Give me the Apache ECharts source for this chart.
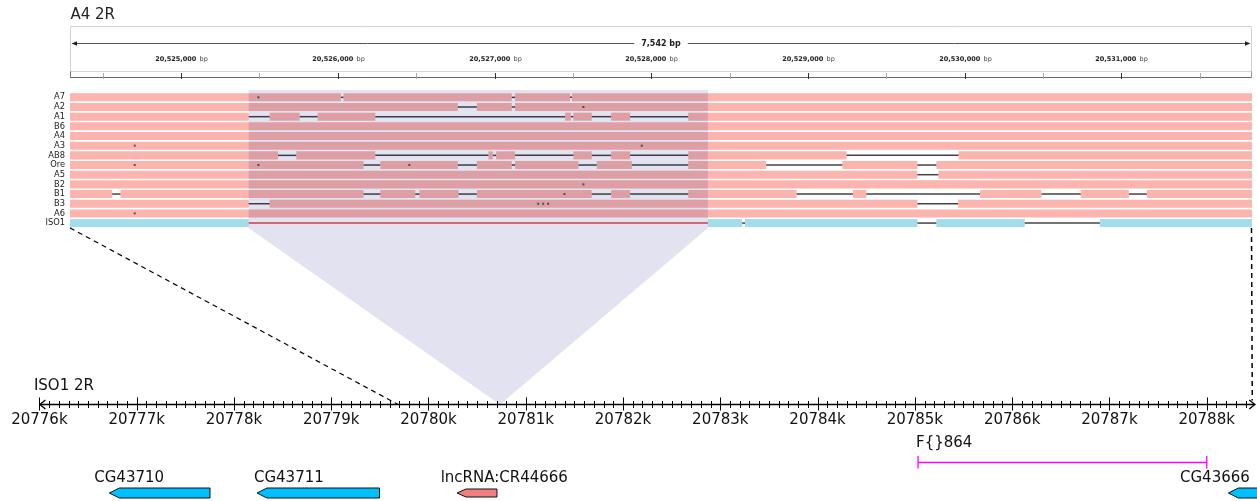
<!DOCTYPE html>
<html>
<head>
<meta charset="utf-8">
<script src="https://cdn.jsdelivr.net/npm/echarts@6/dist/echarts.min.js"></script>
<style>
  html, body { margin: 0; padding: 0; background: #fff; }
  #chart { width: 1257px; height: 501px; }
</style>
</head>
<body>
<div id="chart"></div>
<script>
// ---- A4 2R window: ruler and aligned assemblies ----
const a4Chrom = 'A4 2R';
const a4Start = 20524291;
const a4End = 20531833;
const a4MajorTicks = [20525000, 20526000, 20527000, 20528000, 20529000, 20530000, 20531000];
const a4MinorTicks = [20524500, 20525500, 20526500, 20527500, 20528500, 20529500, 20530500, 20531500];

const trackNames = ['A7', 'A2', 'A1', 'B6', 'A4', 'A3', 'AB8', 'Ore', 'A5', 'B2', 'B1', 'B3', 'A6', 'ISO1'];

// unaligned stretches (drawn as a thin line) per assembly, A4 coordinates
const gapsA7 = [[20526020, 20526036], [20527110, 20527131], [20527482, 20527494]];
const gapsA2 = [[20526766, 20526887], [20527110, 20527131]];
const gapsA1 = [[20525431, 20525565], [20525756, 20525871], [20526239, 20527450], [20527487, 20527503],
                [20527620, 20527744], [20527865, 20528236]];
const gapsB6 = [];
const gapsA4 = [];
const gapsA3 = [];
const gapsAB8 = [[20525618, 20525735], [20526239, 20526961], [20526989, 20527010], [20527131, 20527503],
                 [20527620, 20527744], [20527865, 20528236], [20529246, 20529961]];
const gapsOre = [[20526164, 20526271], [20526766, 20526887], [20527110, 20527131], [20527535, 20527652],
                 [20527876, 20528236], [20528733, 20529219], [20529698, 20529819]];
const gapsA5 = [[20529698, 20529832]];
const gapsB2 = [];
const gapsB1 = [[20524560, 20524613], [20526164, 20526271], [20526494, 20526521], [20526770, 20526887],
                [20527620, 20527744], [20527865, 20528236], [20528927, 20529287], [20529372, 20530097],
                [20530490, 20530740], [20531048, 20531162]];
const gapsB3 = [[20525431, 20525565], [20529698, 20529958]];
const gapsA6 = [];
const gapsISO1 = [[20528580, 20528598], [20529698, 20529819], [20530383, 20530862]];

// single-base differences
const snpA7 = [20525493];
const snpA2 = [20527567];
const snpA1 = [];
const snpB6 = [];
const snpA4 = [];
const snpA3 = [20524704, 20527939];
const snpAB8 = [];
const snpOre = [20524704, 20525493, 20526456];
const snpA5 = [];
const snpB2 = [20527567];
const snpB1 = [20527446];
const snpB3 = [20527278, 20527310, 20527342];
const snpA6 = [20524704];
const snpISO1 = [];

// A4 insertion absent from ISO1, and where it collapses on ISO1
const insertionA4 = [20525431, 20528361];
const insertionIso = 20780735;
// outer anchors linking the two windows
const anchorA4 = [a4Start, a4End];
const anchorIso = [20779687, 20788469];

// ---- ISO1 2R window: axis and annotations ----
const isoChrom = 'ISO1 2R';
const isoStart = 20776000;
const isoEnd = 20788500;
const isoTickValues = [20776000, 20777000, 20778000, 20779000, 20780000, 20781000, 20782000,
                       20783000, 20784000, 20785000, 20786000, 20787000, 20788000];
const isoMinorStep = 100;

const geneNames = ['CG43710', 'CG43711', 'lncRNA:CR44666', 'CG43666'];
const geneStarts = [20776719, 20778237, 20780293, 20788223];
const geneEnds = [20777754, 20779497, 20780704, 20788800];
const geneLabelAt = [20776564, 20778206, 20780125, 20787726];
const geneTypes = ['coding', 'coding', 'ncRNA', 'coding'];

const featureName = 'F{}864';
const featureRange = [20785033, 20788001];
const featureLabelAt = 20785012;

// ---- styling ----
const FONT = 'DejaVu Sans';
const PINK = '#FBB4AE';
const CYAN = '#A2DDEB';
const GAP_LINE = '#444';

function commas(n) { return String(n).replace(/\B(?=(\d{3})+(?!\d))/g, ','); }

function complement(gaps, from, to) {
  const sorted = gaps.slice().sort((a, b) => a[0] - b[0]);
  const out = [];
  let cur = from;
  for (const [s, e] of sorted) {
    if (s > cur) out.push([cur, s]);
    cur = Math.max(cur, e);
  }
  if (cur < to) out.push([cur, to]);
  return out;
}

// build the track items
const gapLists = [gapsA7, gapsA2, gapsA1, gapsB6, gapsA4, gapsA3, gapsAB8, gapsOre, gapsA5, gapsB2, gapsB1, gapsB3, gapsA6, gapsISO1];
const snpLists = [snpA7, snpA2, snpA1, snpB6, snpA4, snpA3, snpAB8, snpOre, snpA5, snpB2, snpB1, snpB3, snpA6, snpISO1];
const trackItems = [];
trackNames.forEach((name, row) => {
  const gaps = gapLists[row];
  const isRef = name === 'ISO1';
  const blocked = isRef ? gaps.concat([insertionA4]) : gaps;
  complement(blocked, a4Start, a4End).forEach(([s, e]) =>
    trackItems.push({ row, start: s, end: e, kind: isRef ? 'ref' : 'aligned' }));
  gaps.forEach(([s, e]) => trackItems.push({ row, start: s, end: e, kind: 'gap' }));
  if (isRef) trackItems.push({ row, start: insertionA4[0], end: insertionA4[1], kind: 'missing' });
  snpLists[row].forEach(p => trackItems.push({ row, start: p, end: p, kind: 'snp' }));
});

// ---- render functions ----
function renderA4Frame(params, api) {
  const cs = params.coordSys;
  const x0 = api.coord([api.value(0), 0])[0];
  const x1 = api.coord([api.value(1), 0])[0];
  const top = cs.y, bot = cs.y + cs.height;
  const arrowY = top + 17.5;
  const stripTop = top + 45.5;
  const span = commas(Math.round(api.value(1) - api.value(0))) + ' bp';
  return {
    type: 'group',
    children: [
      { type: 'rect', shape: { x: x0 + 0.5, y: top + 0.5, width: x1 - x0 - 1, height: bot - top - 1 },
        style: { fill: '#fff', stroke: '#cfd0d8', lineWidth: 1 } },
      { type: 'line', shape: { x1: x0 + 0.5, y1: stripTop, x2: x1 - 0.5, y2: stripTop },
        style: { stroke: '#d4d4d8', lineWidth: 1 } },
      { type: 'line', shape: { x1: x0 + 0.5, y1: bot - 0.5, x2: x1 - 0.5, y2: bot - 0.5 },
        style: { stroke: '#666', lineWidth: 1 } },
      { type: 'line', shape: { x1: x0 + 0.5, y1: stripTop, x2: x0 + 0.5, y2: bot },
        style: { stroke: '#777', lineWidth: 1 } },
      { type: 'line', shape: { x1: x1 - 0.5, y1: stripTop, x2: x1 - 0.5, y2: bot },
        style: { stroke: '#999', lineWidth: 1 } },
      { type: 'line', shape: { x1: x0 + 4, y1: arrowY, x2: x1 - 4, y2: arrowY },
        style: { stroke: '#555', lineWidth: 1 } },
      { type: 'polygon', shape: { points: [[x0 + 1.5, arrowY], [x0 + 7, arrowY - 2.2], [x0 + 7, arrowY + 2.2]] },
        style: { fill: '#222' } },
      { type: 'polygon', shape: { points: [[x1 - 1.5, arrowY], [x1 - 7, arrowY - 2.2], [x1 - 7, arrowY + 2.2]] },
        style: { fill: '#222' } },
      { type: 'text', x: (x0 + x1) / 2, y: arrowY,
        style: { text: span, fontFamily: FONT, fontWeight: 'bold', fontSize: 8, fill: '#222',
                 align: 'center', verticalAlign: 'middle', backgroundColor: '#fff', padding: [0, 7] } },
      { type: 'text', x: x0 + 0.5, y: top - 10.5,
        style: { text: a4Chrom, fontFamily: FONT, fontSize: 15, fill: '#222',
                 align: 'left', verticalAlign: 'middle' } }
    ]
  };
}

function renderA4Tick(params, api) {
  const cs = params.coordSys;
  const v = api.value(0);
  const major = api.value(1) === 1;
  const x = Math.round(api.coord([v, 0])[0]) + 0.5;
  const top = cs.y;
  const children = [
    { type: 'line', shape: { x1: x, y1: top + 47, x2: x, y2: top + 53 },
      style: { stroke: major ? '#333' : '#a8a8a8', lineWidth: 1 } }
  ];
  if (major) {
    children.push({
      type: 'text', x: x, y: top + 33.5,
      style: {
        text: '{n|' + commas(v) + '} {u|bp}',
        align: 'center', verticalAlign: 'middle',
        rich: {
          n: { fontFamily: FONT, fontWeight: 'bold', fontSize: 6.5, fill: '#222' },
          u: { fontFamily: FONT, fontSize: 6.5, fill: '#444' }
        }
      }
    });
  }
  return { type: 'group', children };
}

function renderTrack(params, api) {
  const item = trackItems[params.dataIndex];
  const a = api.coord([api.value(0), api.value(2)]);
  const b = api.coord([api.value(1), api.value(2)]);
  const band = api.size([0, 1])[1];
  const h = band * 0.83;
  const cy = a[1];
  switch (item.kind) {
    case 'aligned':
      return { type: 'rect', shape: { x: a[0], y: cy - h / 2, width: b[0] - a[0], height: h }, style: { fill: PINK } };
    case 'ref':
      return { type: 'rect', shape: { x: a[0], y: cy - h / 2, width: b[0] - a[0], height: h }, style: { fill: CYAN } };
    case 'gap':
      return { type: 'line', shape: { x1: a[0], y1: cy, x2: b[0], y2: cy }, style: { stroke: GAP_LINE, lineWidth: 1.5 } };
    case 'missing':
      return { type: 'line', shape: { x1: a[0], y1: cy, x2: b[0], y2: cy }, style: { stroke: '#E2474B', lineWidth: 1.4 } };
    case 'snp':
      return { type: 'rect', shape: { x: a[0] - 1, y: cy - 1, width: 2, height: 2 }, style: { fill: '#555' } };
  }
  return null;
}

function renderIsoAxis(params, api) {
  const a = api.coord([api.value(0), 0]);
  const b = api.coord([api.value(1), 0]);
  const y = Math.round(a[1]) + 0.5;
  return {
    type: 'group',
    children: [
      { type: 'line', shape: { x1: a[0], y1: y, x2: b[0], y2: y }, style: { stroke: '#000', lineWidth: 1.3 } },
      { type: 'polyline', shape: { points: [[a[0] + 6, y - 4.5], [a[0] + 0.5, y], [a[0] + 6, y + 4.5]] },
        style: { stroke: '#000', lineWidth: 1.3, fill: null } },
      { type: 'polyline', shape: { points: [[b[0] - 6, y - 4.5], [b[0] - 0.5, y], [b[0] - 6, y + 4.5]] },
        style: { stroke: '#000', lineWidth: 1.3, fill: null } },
      { type: 'text', x: a[0] - 5.5, y: y - 18.5,
        style: { text: isoChrom, fontFamily: FONT, fontSize: 15, fill: '#111', align: 'left', verticalAlign: 'middle' } }
    ]
  };
}

function renderIsoTick(params, api) {
  const v = api.value(0);
  const major = api.value(1) === 1;
  const p = api.coord([v, 0]);
  const x = Math.round(p[0]) + 0.5;
  const y = Math.round(p[1]) + 0.5;
  const children = [
    { type: 'line', shape: { x1: x, y1: major ? y - 7 : y - 3.5, x2: x, y2: major ? y + 6 : y + 3.5 },
      style: { stroke: '#000', lineWidth: 1 } }
  ];
  if (major) {
    children.push({ type: 'text', x: p[0], y: y + 15.5,
      style: { text: (v / 1000) + 'k', fontFamily: FONT, fontSize: 15, fill: '#111', align: 'center', verticalAlign: 'middle' } });
  }
  return { type: 'group', children };
}

function renderGene(params, api) {
  const i = params.dataIndex;
  const x0 = api.coord([api.value(0), 0])[0];
  const x1 = api.coord([api.value(1), 0])[0];
  const lx = api.coord([api.value(2), 0])[0];
  const axisY = api.coord([api.value(0), 0])[1];
  const cy = axisY + 89;
  const coding = geneTypes[i] === 'coding';
  const h = coding ? 10 : 8;
  const tip = coding ? 10 : 9;
  return {
    type: 'group',
    children: [
      { type: 'polygon',
        shape: { points: [[x0, cy], [x0 + tip, cy - h / 2], [x1, cy - h / 2], [x1, cy + h / 2], [x0 + tip, cy + h / 2]] },
        style: { fill: coding ? '#00BFFF' : '#F08080', stroke: '#111', lineWidth: 1 } },
      { type: 'text', x: lx, y: axisY + 74,
        style: { text: geneNames[i], fontFamily: FONT, fontSize: 15, fill: '#111', align: 'left', verticalAlign: 'middle' } }
    ]
  };
}

function renderFeature(params, api) {
  const x0 = api.coord([api.value(0), 0])[0];
  const x1 = api.coord([api.value(1), 0])[0];
  const lx = api.coord([api.value(2), 0])[0];
  const axisY = api.coord([api.value(0), 0])[1];
  const y = axisY + 58.5;
  const mag = '#FF00FF';
  return {
    type: 'group',
    children: [
      { type: 'line', shape: { x1: x0, y1: y, x2: x1, y2: y }, style: { stroke: mag, lineWidth: 1.5 } },
      { type: 'line', shape: { x1: x0, y1: y - 6.5, x2: x0, y2: y + 6 }, style: { stroke: mag, lineWidth: 1.3 } },
      { type: 'line', shape: { x1: x1, y1: y - 6.5, x2: x1, y2: y + 6 }, style: { stroke: mag, lineWidth: 1.3 } },
      { type: 'text', x: lx, y: axisY + 39,
        style: { text: featureName, fontFamily: FONT, fontSize: 15, fill: '#111', align: 'left', verticalAlign: 'middle' } }
    ]
  };
}

// ---- chart ----
const chart = echarts.init(document.getElementById('chart'), null, { renderer: 'canvas' });

const isoMinorTicks = [];
for (let v = isoStart + isoMinorStep; v < isoEnd; v += isoMinorStep) {
  if (v % 1000 !== 0) isoMinorTicks.push(v);
}

chart.setOption({
  backgroundColor: '#fff',
  animation: false,
  grid: [
    { left: 70, right: 5, top: 26, height: 52 },
    { left: 70, right: 5, top: 92.5, height: 135.4 },
    { left: 39.4, right: 1.7, top: 384, height: 20 }
  ],
  xAxis: [
    { gridIndex: 0, type: 'value', min: a4Start, max: a4End, show: false },
    { gridIndex: 1, type: 'value', min: a4Start, max: a4End, show: false },
    { gridIndex: 2, type: 'value', min: isoStart, max: isoEnd, show: false }
  ],
  yAxis: [
    { gridIndex: 0, type: 'value', min: 0, max: 1, show: false },
    { gridIndex: 1, type: 'category', data: trackNames, inverse: true,
      axisLine: { show: false }, axisTick: { show: false }, splitLine: { show: false },
      axisLabel: { interval: 0, fontSize: 8.3, color: '#222', margin: 5, fontFamily: FONT } },
    { gridIndex: 2, type: 'value', min: 0, max: 1, show: false }
  ],
  series: [
    { type: 'custom', xAxisIndex: 0, yAxisIndex: 0, renderItem: renderA4Frame,
      data: [[a4Start, a4End]], encode: { x: [0, 1] }, silent: true, z: 1 },
    { type: 'custom', xAxisIndex: 0, yAxisIndex: 0, renderItem: renderA4Tick,
      data: a4MajorTicks.map(v => [v, 1]).concat(a4MinorTicks.map(v => [v, 0])),
      encode: { x: 0 }, silent: true, z: 2 },
    { type: 'custom', xAxisIndex: 1, yAxisIndex: 1, renderItem: renderTrack,
      data: trackItems.map(d => [d.start, d.end, d.row]), encode: { x: [0, 1], y: 2 }, silent: true, z: 2 },
    { type: 'custom', xAxisIndex: 2, yAxisIndex: 2, renderItem: renderIsoAxis,
      data: [[isoStart, isoEnd]], encode: { x: [0, 1] }, silent: true, clip: false, z: 2 },
    { type: 'custom', xAxisIndex: 2, yAxisIndex: 2, renderItem: renderIsoTick,
      data: isoTickValues.map(v => [v, 1]).concat(isoMinorTicks.map(v => [v, 0])),
      encode: { x: 0 }, silent: true, clip: false, z: 2 },
    { type: 'custom', xAxisIndex: 2, yAxisIndex: 2, renderItem: renderFeature,
      data: [[featureRange[0], featureRange[1], featureLabelAt]], encode: { x: [0, 1] }, silent: true, clip: false, z: 2 },
    { type: 'custom', xAxisIndex: 2, yAxisIndex: 2, renderItem: renderGene,
      data: geneNames.map((n, i) => [geneStarts[i], geneEnds[i], geneLabelAt[i]]),
      encode: { x: [0, 1] }, silent: true, clip: false, z: 2 }
  ]
});

// links between the A4 window and the ISO1 axis, placed with both coordinate systems
(function drawLinks() {
  const xTop = v => chart.convertToPixel({ xAxisIndex: 1 }, v);
  const xBot = v => chart.convertToPixel({ xAxisIndex: 2 }, v);
  const row0 = chart.convertToPixel({ yAxisIndex: 1 }, trackNames[0]);
  const row1 = chart.convertToPixel({ yAxisIndex: 1 }, trackNames[1]);
  const rowLast = chart.convertToPixel({ yAxisIndex: 1 }, trackNames[trackNames.length - 1]);
  const pitch = row1 - row0;
  const top = row0 - pitch / 2 - 2.5;
  const base = rowLast + pitch / 2;
  const axisY = Math.round(chart.convertToPixel({ yAxisIndex: 2 }, 0)) + 0.5;
  const xl = xTop(insertionA4[0]), xr = xTop(insertionA4[1]), xt = xBot(insertionIso);
  chart.setOption({
    graphic: [
      { type: 'polygon', silent: true, z: 100,
        shape: { points: [[xl, top], [xr, top], [xr, base], [xt, axisY], [xl, base]] },
        style: { fill: '#e2e2f1', blend: 'multiply' } },
      { type: 'line', silent: true, z: 101,
        shape: { x1: xTop(anchorA4[0]), y1: base, x2: xBot(anchorIso[0]), y2: axisY },
        style: { stroke: '#000', lineWidth: 1.2, lineDash: [5, 4] } },
      { type: 'line', silent: true, z: 101,
        shape: { x1: xTop(anchorA4[1]) - 0.5, y1: base, x2: xBot(anchorIso[1]), y2: axisY - 4 },
        style: { stroke: '#000', lineWidth: 1.5, lineDash: [5, 4] } }
    ]
  });
})();
</script>
</body>
</html>
